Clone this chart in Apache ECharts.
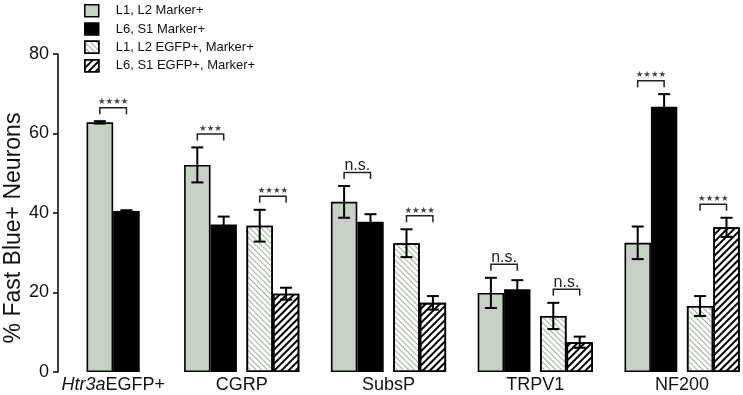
<!DOCTYPE html>
<html>
<head>
<meta charset="utf-8">
<script src="https://cdn.jsdelivr.net/npm/echarts@6/dist/echarts.min.js"></script>
<style>html,body{margin:0;padding:0;background:#fff}#c{width:743px;height:395px}</style>
</head>
<body>
<div id="c"></div>
<script>
// ---- data ----
const categories = ['Htr3aEGFP+', 'CGRP', 'SubsP', 'TRPV1', 'NF200'];
const seriesNames = ['L1, L2 Marker+', 'L6, S1 Marker+', 'L1, L2 EGFP+, Marker+', 'L6, S1 EGFP+, Marker+'];
const l12Marker    = [62.8, 52.1, 42.8, 19.9, 32.5];
const l12MarkerErr = [0.3, 4.4, 4.0, 3.8, 4.1];
const l6s1Marker    = [40.5, 37.1, 37.8, 20.8, 66.7];
const l6s1MarkerErr = [0.2, 2.0, 1.9, 2.3, 3.2];
const l12Egfp    = [null, 36.8, 32.4, 14.1, 16.6];
const l12EgfpErr = [null, 4.0, 3.5, 3.3, 2.5];
const l6s1Egfp    = [null, 19.7, 17.4, 7.5, 36.4];
const l6s1EgfpErr = [null, 1.5, 1.7, 1.4, 2.4];
const sigMarker = ['****', '***', 'n.s.', 'n.s.', '****'];
const sigEgfp   = [null, '****', '****', 'n.s.', '****'];
const yTicks = [0, 20, 40, 60, 80];

// ---- layout / style ----
const FONT = 'Arial, "Liberation Sans", sans-serif';
const GRAY = '#c6d0c5';
const BWA = 26.6;           // bar width, first group
const BWB = 26.4;           // bar width, other groups
const SP = 9.6;             // gap between pairs
const offA = [-BWA / 2, BWA / 2];
const totB = 4 * BWB + SP;
const offB = [0, 1, 2, 3].map(i => -totB / 2 + i * BWB + (i >= 2 ? SP : 0) + BWB / 2);

const hatchGray = { symbol: 'rect', symbolSize: 1, dashArrayX: [1, 0], dashArrayY: [1, 3], rotation: Math.PI / 4, color: '#9fb09e' };
const hatchBlack = { symbol: 'rect', symbolSize: 1, dashArrayX: [1, 0], dashArrayY: [1.6, 2.4], rotation: -Math.PI / 4, color: '#000' };
const styles = [
  { color: GRAY, borderColor: '#000', borderWidth: 1.6 },
  { color: '#000', borderColor: '#000', borderWidth: 1.6 },
  { color: '#fff', borderColor: '#000', borderWidth: 1.6, decal: hatchGray },
  { color: '#fff', borderColor: '#000', borderWidth: 1.6, decal: hatchBlack }
];

const means = [l12Marker, l6s1Marker, l12Egfp, l6s1Egfp];
const errs = [l12MarkerErr, l6s1MarkerErr, l12EgfpErr, l6s1EgfpErr];

function errData(fromCat, toCat, nSeries) {
  const out = [];
  for (let c = fromCat; c < toCat; c++) {
    for (let s = 0; s < nSeries; s++) {
      if (means[s][c] == null) continue;
      out.push([c - fromCat, means[s][c], errs[s][c], s]);
    }
  }
  return out;
}
function makeErrRender(offs) {
  return function (params, api) {
    const c = api.value(0), m = api.value(1), e = api.value(2), s = api.value(3);
    const x = api.coord([c, m])[0] + offs[s];
    const yt = api.coord([c, m + e])[1];
    const yb = api.coord([c, m - e])[1];
    const st = { stroke: '#000', lineWidth: 2 };
    return { type: 'group', children: [
      { type: 'line', shape: { x1: x, y1: yt, x2: x, y2: yb }, style: st },
      { type: 'line', shape: { x1: x - 6, y1: yt, x2: x + 6, y2: yt }, style: st },
      { type: 'line', shape: { x1: x - 6, y1: yb, x2: x + 6, y2: yb }, style: st }
    ] };
  };
}
function brData(fromCat, toCat) {
  const out = [], labels = [];
  for (let c = fromCat; c < toCat; c++) {
    [[0, 1, sigMarker], [2, 3, sigEgfp]].forEach(([a, b, sig]) => {
      if (sig[c] == null) return;
      const top = Math.max(means[a][c] + errs[a][c], means[b][c] + errs[b][c]);
      out.push([c - fromCat, top, a, b]);
      labels.push(sig[c]);
    });
  }
  return { out, labels };
}
function makeBrRender(offs, labels) {
  return function (params, api) {
    const c = api.value(0), top = api.value(1), a = api.value(2), b = api.value(3);
    const p = api.coord([c, top]);
    const x1 = p[0] + offs[a], x2 = p[0] + offs[b];
    const y = p[1] - 13.5, yt = y + 6.5;
    const lab = labels[params.dataIndex];
    const isNs = lab === 'n.s.';
    return { type: 'group', children: [
      { type: 'polyline', shape: { points: [[x1, yt], [x1, y], [x2, y], [x2, yt]] }, style: { stroke: '#222', lineWidth: 1.5, fill: null } },
      { type: 'text', style: { text: isNs ? lab : lab.replace(/\*/g, '\u2605'), x: (x1 + x2) / 2, y: isNs ? y + 1.5 : y - 1,
          align: 'center', verticalAlign: 'bottom', fontSize: isNs ? 16 : 8.5, fontFamily: isNs ? FONT : 'DejaVu Sans, sans-serif', fill: isNs ? '#222' : '#444' } }
    ] };
  };
}

const nA = 1;
const brA = brData(0, nA), brB = brData(nA, categories.length);
const catA = categories.slice(0, nA), catB = categories.slice(nA);

const xCommon = {
  type: 'category',
  axisLine: { show: false }, axisTick: { show: false },
  axisLabel: { fontSize: 18, fontFamily: FONT, color: '#111', margin: 4, interval: 0,
    formatter: v => v === 'Htr3aEGFP+' ? '{i|Htr3a}EGFP+' : v,
    rich: { i: { fontStyle: 'italic', fontSize: 18, fontFamily: FONT, color: '#111' } } }
};

const series = [];
[0, 1].forEach(s => series.push({
  type: 'bar', name: seriesNames[s], xAxisIndex: 0, yAxisIndex: 0, barWidth: BWA, barGap: '0%', clip: false,
  itemStyle: styles[s], data: means[s].slice(0, nA), z: 2
}));
[0, 1, -1, 2, 3].forEach(s => {
  if (s === -1) {
    series.push({ type: 'bar', name: '__spacer', xAxisIndex: 1, yAxisIndex: 1, barWidth: SP, barGap: '0%', data: catB.map(() => null), silent: true });
  } else {
    series.push({ type: 'bar', name: seriesNames[s], xAxisIndex: 1, yAxisIndex: 1, barWidth: BWB, barGap: '0%', clip: false,
      itemStyle: styles[s], data: means[s].slice(nA), z: 2 });
  }
});
series.push({ type: 'custom', xAxisIndex: 0, yAxisIndex: 0, z: 5, clip: false, renderItem: makeErrRender(offA), data: errData(0, nA, 2) });
series.push({ type: 'custom', xAxisIndex: 1, yAxisIndex: 1, z: 5, clip: false, renderItem: makeErrRender(offB), data: errData(nA, categories.length, 4) });
series.push({ type: 'custom', xAxisIndex: 0, yAxisIndex: 0, z: 5, clip: false, renderItem: makeBrRender(offA, brA.labels), data: brA.out });
series.push({ type: 'custom', xAxisIndex: 1, yAxisIndex: 1, z: 5, clip: false, renderItem: makeBrRender(offB, brB.labels), data: brB.out });

const chart = echarts.init(document.getElementById('c'), null, { renderer: 'canvas' });
chart.setOption({
  animation: false,
  backgroundColor: '#fff',
  legend: {
    data: seriesNames, orient: 'vertical', left: 84, top: 4, padding: 0, icon: 'rect',
    itemWidth: 14, itemHeight: 12, itemGap: 4.8,
    itemStyle: { borderColor: '#000', borderWidth: 1.5 },
    textStyle: { fontSize: 13, fontFamily: FONT, color: '#111', padding: [0, 0, 0, 12] },
    selectedMode: false
  },
  grid: [
    { left: 58, top: 54, width: 110.3, bottom: 23, outerBoundsMode: 'none' },
    { left: 241.7, top: 54, width: 440.4, bottom: 23, outerBoundsMode: 'none' }
  ],
  xAxis: [
    Object.assign({ gridIndex: 0, data: catA }, xCommon),
    Object.assign({ gridIndex: 1, data: catB, boundaryGap: false }, xCommon)
  ],
  yAxis: [
    { type: 'value', gridIndex: 0, min: yTicks[0], max: yTicks[yTicks.length - 1], interval: 20,
      splitLine: { show: false },
      axisLine: { show: true, lineStyle: { color: '#000', width: 1.5 } },
      axisTick: { show: true, length: 5, lineStyle: { color: '#000', width: 1.5 } },
      axisLabel: { fontSize: 18, fontFamily: FONT, color: '#111', margin: 9 },
      name: '% Fast Blue+ Neurons', nameLocation: 'middle', nameGap: 32,
      nameTextStyle: { fontSize: 23, fontFamily: FONT, color: '#111', padding: [0, 30, 0, 0] } },
    { type: 'value', gridIndex: 1, min: yTicks[0], max: yTicks[yTicks.length - 1], interval: 20, show: false, splitLine: { show: false } }
  ],
  series: series
});
</script>
</body>
</html>
